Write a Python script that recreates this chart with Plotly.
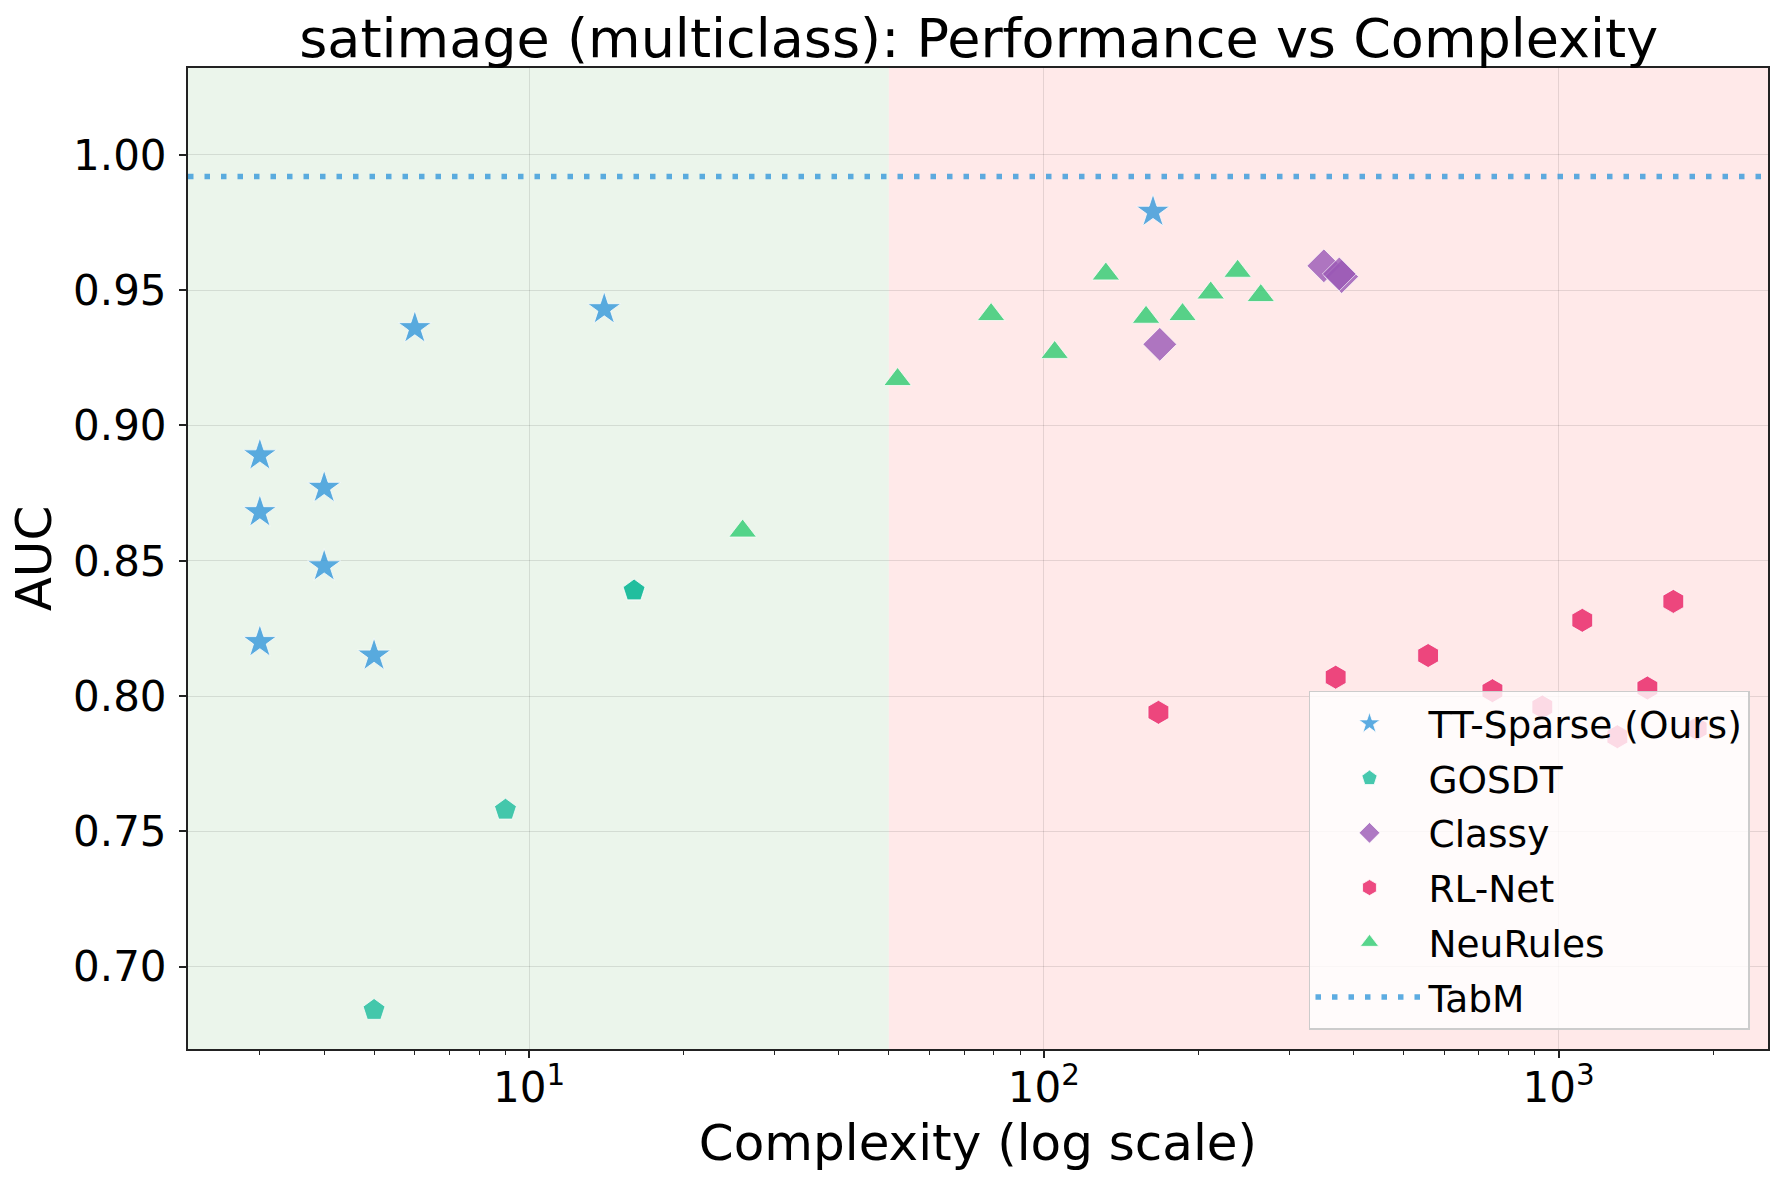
import plotly.graph_objects as go

# ---------------- data ----------------
tt_x = [3, 3, 3, 4, 4, 5, 6, 14, 163]
tt_y = [0.889, 0.868, 0.820, 0.877, 0.848, 0.815, 0.936, 0.943, 0.979]

gosdt_x = [5, 9, 16, 16]
gosdt_y = [0.684, 0.758, 0.839, 0.839]

classy_x = [168, 350, 379, 375]
classy_y = [0.930, 0.959, 0.955, 0.956]

rlnet_x = [167, 369, 558, 744, 930, 1112, 1301, 1488, 1671, 1855]
rlnet_y = [0.794, 0.807, 0.815, 0.802, 0.796, 0.828, 0.785, 0.803, 0.835, 0.788]

neurules_x = [26, 52, 79, 105, 132, 158, 186, 211, 238, 264]
neurules_y = [0.861, 0.917, 0.941, 0.927, 0.956, 0.940, 0.941, 0.949, 0.957, 0.948]

tabm_auc = 0.992
complexity_threshold = 50

x_tick_vals = [10, 100, 1000]
x_tick_text = ["10<sup>1</sup>", "10<sup>2</sup>", "10<sup>3</sup>"]
x_minor_vals = [3, 4, 5, 6, 7, 8, 9, 20, 30, 40, 50, 60, 70, 80, 90,
                200, 300, 400, 500, 600, 700, 800, 900, 2000]
y_tick_vals = [0.70, 0.75, 0.80, 0.85, 0.90, 0.95, 1.00]

x_range_log = [0.3375, 3.4069]
y_range = [0.6696, 1.0321]

FONT = "DejaVu Sans"

fig = go.Figure()

series = [
    ("TT-Sparse (Ours)", tt_x, tt_y, "star", "#3498db", 25),
    ("GOSDT", gosdt_x, gosdt_y, "pentagon", "#1abc9c", 23),
    ("Classy", classy_x, classy_y, "diamond", "#9b59b6", 26),
    ("RL-Net", rlnet_x, rlnet_y, "hexagon", "#e91e63", 24),
    ("NeuRules", neurules_x, neurules_y, "triangle-up", "#2ecc71", 24),
]

for i, (name, xs, ys, sym, col, sz) in enumerate(series):
    fig.add_trace(go.Scatter(
        x=xs, y=ys, mode="markers", name=name, legendgroup=name,
        marker=dict(symbol=sym, color=col, size=sz, opacity=0.8,
                    line=dict(color="white", width=0.8)),
        legendrank=i + 1,
    ))

# TabM reference line
fig.add_hline(y=tabm_auc, line=dict(color="rgba(52,152,219,0.8)", width=5.5, dash="5.5px,11px"),
              layer="above", showlegend=True, name="TabM", legendgroup="TabM", legendrank=10)

# background zones
fig.add_vrect(x0=0.001, x1=complexity_threshold, fillcolor="rgba(0,128,0,0.08)",
              line_width=0, layer="below")
fig.add_vrect(x0=complexity_threshold, x1=1e6, fillcolor="rgba(255,0,0,0.085)",
              line_width=0, layer="below")

axis_common = dict(
    showline=True, linecolor="#222222", linewidth=2, mirror=True,
    ticks="outside", ticklen=7, tickwidth=1.5, tickcolor="#222222",
    showgrid=True, gridcolor="rgba(0,0,0,0.10)", gridwidth=1.2,
    zeroline=False,
    tickfont=dict(family=FONT, size=42, color="black"),
)

fig.update_xaxes(
    type="log", range=x_range_log,
    tickmode="array", tickvals=x_tick_vals, ticktext=x_tick_text,
    minor=dict(tickmode="array", tickvals=x_minor_vals, ticks="outside",
               ticklen=4, tickwidth=1, tickcolor="#222222", showgrid=False),
    ticklabelstandoff=-6,
    title=dict(text="Complexity (log scale)", font=dict(family=FONT, size=50, color="black"),
               standoff=14),
    automargin=False,
    **axis_common,
)
fig.update_yaxes(
    range=y_range, tickmode="array", tickvals=y_tick_vals,
    tickformat=".2f", ticklabelstandoff=4,
    title=dict(text="AUC", font=dict(family=FONT, size=50, color="black"), standoff=6),
    automargin=False,
    **axis_common,
)

fig.update_layout(
    width=1783, height=1181,
    margin=dict(l=188, r=15, t=68, b=132),
    paper_bgcolor="white", plot_bgcolor="white",
    title=dict(text="satimage (multiclass): Performance vs Complexity",
               font=dict(family=FONT, size=54, color="black"),
               x=0.5489, xanchor="center", xref="container",
               y=1 - 38 / 1181, yanchor="middle", yref="container"),
    legend=dict(
        x=0.9886, y=0.0194, xanchor="right", yanchor="bottom",
        bgcolor="rgba(255,255,255,0.8)", bordercolor="#cccccc", borderwidth=1.5,
        font=dict(family=FONT, size=37.5, color="black"),
        tracegroupgap=3, itemwidth=108, traceorder="grouped",
    ),
    showlegend=True,
)

fig.write_html("out.html")
